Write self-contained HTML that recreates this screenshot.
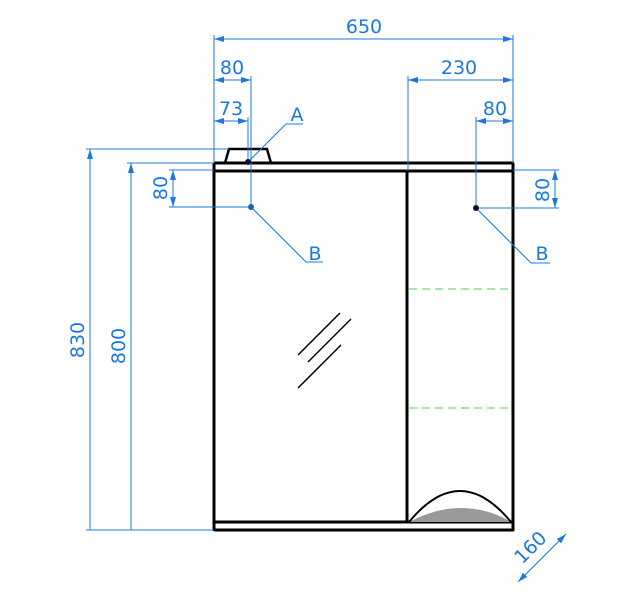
<!DOCTYPE html>
<html><head><meta charset="utf-8"><style>
html,body{margin:0;padding:0;background:#fff;}
svg{display:block;}
text{font-family:"DejaVu Sans","Liberation Sans",sans-serif;fill:#1a78e0;font-size:19px;}
</style></head><body>
<svg width="640" height="599" viewBox="0 0 640 599" xmlns="http://www.w3.org/2000/svg">
<defs>
<marker id="ar" viewBox="0 0 10 6" refX="10" refY="3" markerWidth="14" markerHeight="6" markerUnits="userSpaceOnUse" orient="auto-start-reverse">
<path d="M0,0 L10,3 L0,6 Z" fill="#1a78e0"/></marker>
</defs>
<!-- cabinet -->
<g stroke="#000" stroke-width="3" fill="none">
<line x1="214" y1="163" x2="514" y2="163"/>
<line x1="214" y1="171" x2="514" y2="171"/>
<line x1="214" y1="163" x2="214" y2="531"/>
<line x1="513" y1="163" x2="513" y2="531"/>
<line x1="407" y1="171" x2="407" y2="522"/>
<line x1="214" y1="522" x2="514" y2="522"/>
<line x1="214" y1="530" x2="514" y2="530"/>
<path d="M225,163 L229,149 L267,149 L271,163" stroke-width="2.5"/>
</g>
<!-- arc -->
<path d="M409,522 Q436,508 460,508 Q488,508 511,522 Z" fill="#999"/>
<path d="M409,522 Q460,460 511,522" stroke="#000" stroke-width="2" fill="none"/>
<!-- mirror lines -->
<g stroke="#000" stroke-width="1.5">
<line x1="298" y1="355" x2="340" y2="313"/>
<line x1="308" y1="362" x2="351" y2="319"/>
<line x1="298" y1="388" x2="341" y2="345"/>
</g>
<!-- green dashed -->
<g stroke="#5c5" stroke-width="1" stroke-dasharray="8,5">
<line x1="409" y1="289" x2="511" y2="289"/>
<line x1="409" y1="408" x2="511" y2="408"/>
</g>
<!-- dimension lines -->
<g stroke="#1a78e0" stroke-width="1" fill="none">
<line x1="214" y1="35" x2="214" y2="163"/>
<line x1="513" y1="35" x2="513" y2="163"/>
<line x1="214" y1="39" x2="513" y2="39" marker-start="url(#ar)" marker-end="url(#ar)"/>
<line x1="251" y1="76" x2="251" y2="207"/>
<line x1="214" y1="80" x2="251" y2="80" marker-start="url(#ar)" marker-end="url(#ar)"/>
<line x1="248" y1="117" x2="248" y2="162"/>
<line x1="214" y1="121" x2="248" y2="121" marker-start="url(#ar)" marker-end="url(#ar)"/>
<line x1="408" y1="76" x2="408" y2="171"/>
<line x1="408" y1="80" x2="513" y2="80" marker-start="url(#ar)" marker-end="url(#ar)"/>
<line x1="476" y1="117" x2="476" y2="208"/>
<line x1="476" y1="121" x2="513" y2="121" marker-start="url(#ar)" marker-end="url(#ar)"/>
<line x1="86" y1="149" x2="229" y2="149"/>
<line x1="90" y1="149" x2="90" y2="530" marker-start="url(#ar)"/>
<line x1="127" y1="163" x2="214" y2="163"/>
<line x1="131" y1="163" x2="131" y2="530" marker-start="url(#ar)"/>
<line x1="86" y1="530" x2="214" y2="530"/>
<line x1="169" y1="170" x2="214" y2="170"/>
<line x1="169" y1="207" x2="251" y2="207"/>
<line x1="173" y1="170" x2="173" y2="207" marker-start="url(#ar)" marker-end="url(#ar)"/>
<line x1="513" y1="170" x2="559" y2="170"/>
<line x1="476" y1="208" x2="559" y2="208"/>
<line x1="555" y1="170" x2="555" y2="208" marker-start="url(#ar)" marker-end="url(#ar)"/>
<line x1="518" y1="582" x2="566" y2="534" marker-start="url(#ar)" marker-end="url(#ar)"/>
<!-- leaders -->
<polyline points="248,162 286,124 303,124"/>
<polyline points="251,207 306,262 323,262"/>
<polyline points="476,208 531,263 550,263"/>
</g>
<circle cx="248" cy="162" r="3" fill="#113"/>
<circle cx="251" cy="207" r="3" fill="#1a5fb0"/>
<circle cx="476" cy="208" r="3" fill="#113"/>
<!-- labels -->
<text x="364" y="33" text-anchor="middle">650</text>
<text x="232" y="74" text-anchor="middle">80</text>
<text x="231" y="115" text-anchor="middle">73</text>
<text x="459" y="74" text-anchor="middle">230</text>
<text x="495" y="115" text-anchor="middle">80</text>
<text x="297" y="121" text-anchor="middle">A</text>
<text x="315" y="260" text-anchor="middle">B</text>
<text x="542" y="260" text-anchor="middle">B</text>
<text transform="translate(84,340) rotate(-90)" text-anchor="middle">830</text>
<text transform="translate(125,346) rotate(-90)" text-anchor="middle">800</text>
<text transform="translate(167,188) rotate(-90)" text-anchor="middle">80</text>
<text transform="translate(549,190) rotate(-90)" text-anchor="middle">80</text>
<text transform="translate(535,552) rotate(-45)" text-anchor="middle">160</text>
</svg>
</body></html>
